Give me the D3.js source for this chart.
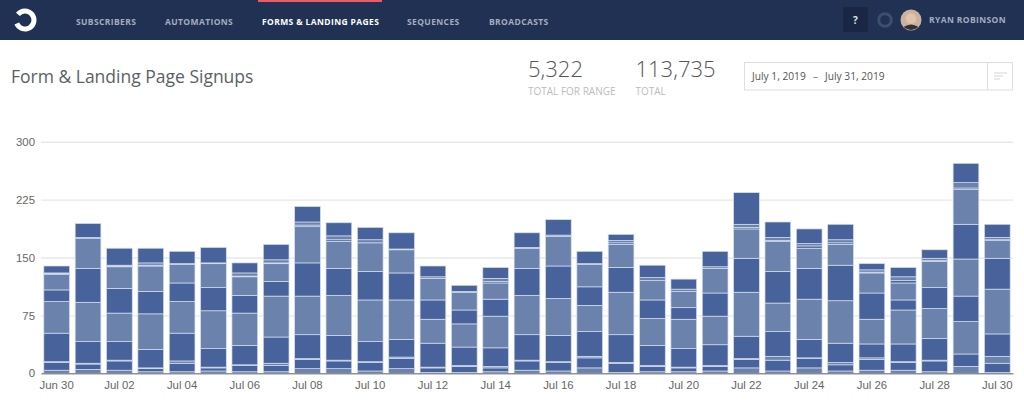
<!DOCTYPE html>
<html>
<head>
<meta charset="utf-8">
<script src="https://cdnjs.cloudflare.com/ajax/libs/d3/7.8.5/d3.min.js"></script>
<style>
html,body{margin:0;padding:0;background:#fff;overflow:hidden}
svg{display:block}
.nav{font-family:"Open Sans",sans-serif;font-size:8.5px;font-weight:700;letter-spacing:.38px;fill:#a3adbe}
.tick text{font-family:"Liberation Sans",Arial,sans-serif;font-size:11.4px;fill:#666}
</style>
</head>
<body>
<svg width="1024" height="405"></svg>
<script>
const days = ["Jun 30","Jul 01","Jul 02","Jul 03","Jul 04","Jul 05","Jul 06","Jul 07","Jul 08","Jul 09","Jul 10","Jul 11","Jul 12","Jul 13","Jul 14","Jul 15","Jul 16","Jul 17","Jul 18","Jul 19","Jul 20","Jul 21","Jul 22","Jul 23","Jul 24","Jul 25","Jul 26","Jul 27","Jul 28","Jul 29","Jul 30"]
const dayLabels = days.filter((d,i) => i%2==0)
const yTicks = [0,75,150,225,300]
const navItems = ["SUBSCRIBERS","AUTOMATIONS","FORMS & LANDING PAGES","SEQUENCES","BROADCASTS"]

// one array per form, bottom of the stack first
const s0 = [4,5,4,2,2,3,2,2,6,6,3,6,1,1,2,4,3,7,1,2,2,3,7,3,7,3,4,4,2,9,1]
const s1 = [10,7,12,4,11,4,8,8,12,10,11,13,6,8,5,12,11,13,12,7,5,6,11,14,12,8,14,10,14,16,12]
const s2 = [1,1,1,1,3,1,1,3,1,1,1,2,1,1,2,1,1,2,1,1,1,1,1,5,1,3,2,1,1,42,9]
const s3 = [37,28,24,24,36,24,25,34,31,32,26,23,31,24,24,33,34,32,36,26,24,27,29,32,24,25,18,23,28,33,29]
const s4 = [41,51,37,46,41,49,42,53,50,52,54,51,31,30,41,51,48,34,55,35,38,37,57,37,52,55,32,44,39,48,58]
const s5 = [15,44,32,29,24,30,23,19,43,35,37,35,25,18,22,35,42,24,32,24,15,30,44,41,40,46,34,13,27,45,40]
const s6 = [20,39,28,33,24,31,24,23,47,35,37,30,28,23,21,26,38,29,30,25,21,32,38,39,26,27,26,22,34,45,23]
const s7 = [1,0,1,1,0,0,1,1,2,2,0,0,0,0,2,0,0,0,2,0,0,0,2,1,3,2,1,3,1,2,1]
const s8 = [1,1,1,3,1,1,4,4,4,5,4,1,2,1,4,1,2,1,3,4,3,2,4,4,3,4,3,5,3,7,3]
const s9 = [9,18,22,19,16,20,13,20,20,17,16,21,14,8,14,19,20,16,8,16,13,20,41,20,19,20,8,12,11,25,17]
const seriesList = [s0,s1,s2,s3,s4,s5,s6,s7,s8,s9]

const dark = "#48639b"
const light = "#6b82ac"

const svg = d3.select("svg")

// header bar
svg.append("rect").attr("width",1024).attr("height",40).attr("fill","#213154")
svg.append("rect").attr("x",258).attr("y",0).attr("width",124).attr("height",2).attr("fill","#f25a62")

// logo ring with a gap on its left side
const logoArc = d3.arc().innerRadius(6.5).outerRadius(11.5).startAngle(-0.9).endAngle(4.3)
svg.append("path").attr("transform","translate(25,20)").attr("d",logoArc()).attr("fill","#fff")

const navX = [76,165,262,407,489]
svg.selectAll("text.nav-item")
    .data(navItems)
    .enter()
    .append("text")
    .attr("class","nav")
    .attr("x",(d,i)=>navX[i])
    .attr("y",24.5)
    .style("fill",(d,i)=> i==2 ? "#fff" : null)
    .text(d=>d)

svg.append("rect").attr("x",843).attr("y",7).attr("width",25).attr("height",25).attr("fill","#1a2744")
svg.append("text").attr("class","nav").attr("x",855.5).attr("y",24).attr("text-anchor","middle")
    .style("font-size","10px").style("fill","#dfe3ea").text("?")
svg.append("circle").attr("cx",885).attr("cy",20).attr("r",6.3).attr("fill","none").attr("stroke","#3d4f70").attr("stroke-width",3)

// avatar stand-in
svg.append("circle").attr("cx",911).attr("cy",20).attr("r",10.5).attr("fill","#c9b3a0")
svg.append("circle").attr("cx",911).attr("cy",18.5).attr("r",5.2).attr("fill","#e3c4aa")
svg.append("path").attr("d","M903.5 27 Q911 22 918.5 27 Q911 33 903.5 27Z").attr("fill","#333")
svg.append("text").attr("class","nav").attr("x",929).attr("y",23).text("RYAN ROBINSON")

// page heading and totals
svg.append("text").attr("x",11).attr("y",83)
    .attr("font-family","'Open Sans',sans-serif").attr("font-size",17.5).attr("fill","#5a5f66")
    .text("Form & Landing Page Signups")

const statText = (x,big,small) => {
    svg.append("text").attr("x",x).attr("y",77)
        .attr("font-family","'Open Sans',sans-serif").attr("font-weight",300).attr("font-size",22).attr("fill","#555")
        .text(big)
    svg.append("text").attr("x",x).attr("y",94.5)
        .attr("font-family","'Open Sans',sans-serif").attr("font-size",10).attr("fill","#bcbcbc")
        .text(small)
}
statText(528,"5,322","TOTAL FOR RANGE")
statText(635.5,"113,735","TOTAL")

// date range box
svg.append("rect").attr("x",744.5).attr("y",62.5).attr("width",268).attr("height",27.5)
    .attr("fill","#fff").attr("stroke","#d9e0e5")
svg.append("line").attr("x1",987.5).attr("x2",987.5).attr("y1",62.5).attr("y2",90).attr("stroke","#d9e0e5")
svg.append("text").attr("x",752).attr("y",80)
    .attr("font-family","'Open Sans',sans-serif").attr("font-size",10.2).attr("fill","#555")
    .text("July 1, 2019")
svg.append("text").attr("x",813).attr("y",80)
    .attr("font-family","'Open Sans',sans-serif").attr("font-size",10.2).attr("fill","#777").text("–")
svg.append("text").attr("x",825).attr("y",80)
    .attr("font-family","'Open Sans',sans-serif").attr("font-size",10.2).attr("fill","#555").text("July 31, 2019")
svg.selectAll("line.icon")
    .data([13,9,6])
    .enter()
    .append("line")
    .attr("class","icon")
    .attr("x1",994)
    .attr("x2",d=>994+d)
    .attr("y1",(d,i)=>73+i*3)
    .attr("y2",(d,i)=>73+i*3)
    .attr("stroke","#d2d7db")

// chart
const scaleX = d3.scaleBand()
    .domain(days)
    .range([41,1013])
    .paddingInner(0.18)
    .paddingOuter(0.09)
const scaleY = d3.scaleLinear()
    .domain([0,300])
    .range([373.3,141.7])

const axisYGroup = svg.append("g")
    .attr("class","y-axis")
    .attr("transform","translate(41,0)")
    .call(d3.axisLeft(scaleY).tickValues(yTicks).tickSize(-972).tickPadding(6))
axisYGroup.select(".domain").remove()
axisYGroup.selectAll("line").attr("stroke","#e8e8e8").attr("stroke-width",1.4)

const table = days.map((d,i) => {
    const row = {day:d}
    seriesList.forEach((s,k) => { row["s"+k] = s[i] })
    return row
})
const stack = d3.stack().keys(seriesList.map((s,k)=>"s"+k))(table)

svg.selectAll("g.layer")
    .data(stack)
    .enter()
    .append("g")
    .attr("class","layer")
    .attr("fill",(d,i)=> i%2==0 ? light : dark)
    .selectAll("rect")
    .data(d=>d.filter(p=>p[1]>p[0]))
    .enter()
    .append("rect")
    .attr("x",d=>scaleX(d.data.day))
    .attr("width",scaleX.bandwidth())
    .attr("y",d=>scaleY(d[1]))
    .attr("height",d=>scaleY(d[0])-scaleY(d[1]))
    .attr("stroke","#d5deee")
    .attr("stroke-width",0.7)

const axisXGroup = svg.append("g")
    .attr("class","x-axis")
    .attr("transform","translate(0,373.3)")
    .call(d3.axisBottom(scaleX).tickValues(dayLabels).tickSize(0).tickPadding(8))
axisXGroup.select(".domain").attr("stroke","#6b6b6b").attr("stroke-width",1)
</script>
</body>
</html>
